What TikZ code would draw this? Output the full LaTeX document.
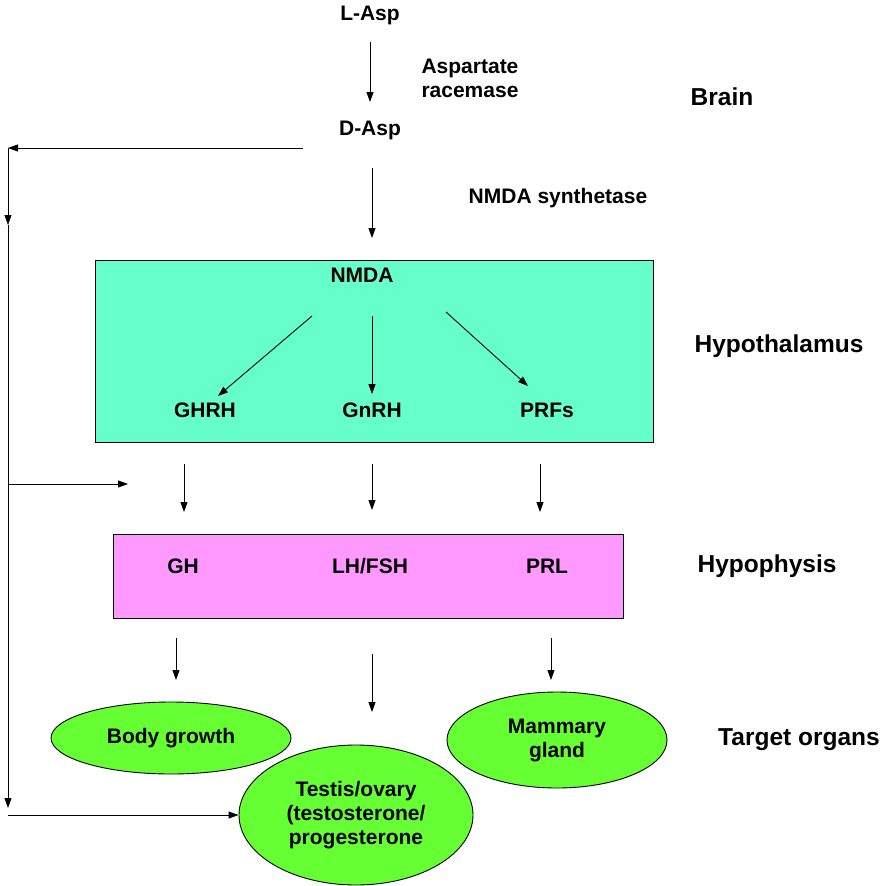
\documentclass[tikz,border=0pt]{standalone}
\usepackage{fontspec}
\setmainfont{Liberation Sans}
\usetikzlibrary{arrows.meta,shapes.geometric}
\begin{document}
\begin{tikzpicture}[x=1pt,y=-1pt,
  t/.style={font=\fontsize{21}{24}\selectfont\bfseries,align=center,inner sep=0},
  r/.style={font=\fontsize{24.5}{28}\selectfont\bfseries,inner sep=0},
  a/.style={-{Triangle[length=10pt,width=7pt]},line width=0.9pt},
  l/.style={line width=0.9pt},
  ov/.style={ellipse,draw,line width=0.9pt,fill=ovg,inner sep=0}]
\definecolor{teal}{HTML}{66FFCC}\definecolor{pinkb}{HTML}{FF99FF}\definecolor{ovg}{HTML}{66FF33}
\useasboundingbox (0,0) rectangle (883,886);
\node[t] (lasp) at (370,15) {L-Asp};
\node[t] (race) at (470,78) {Aspartate\\racemase};
\node[r] (brain) at (722,97) {Brain};
\node[t] (dasp) at (370,130) {D-Asp};
\node[t] (syn) at (558,198) {NMDA synthetase};
\coordinate (a1) at (370,42); \coordinate (a2) at (370,102);
\draw[a] (a1) -- (a2);
\coordinate (b1) at (372,168); \coordinate (b2) at (372,238);
\draw[a] (b1) -- (b2);
% feedback
\coordinate (f0) at (303,148); \coordinate (f1) at (8,148); \coordinate (f2) at (8,225);
\coordinate (f3) at (8,808); \coordinate (h1) at (8,484); \coordinate (h2) at (128,484);
\coordinate (g1) at (8,815);
\draw[a] (f0) -- (f1);
\draw[a] (f1) -- (f2);
\draw[a] (f2) -- (f3);
\draw[a] (h1) -- (h2);
% hypothalamus
\node[draw,l,fill=teal,minimum width=558pt,minimum height=182pt,anchor=north west] (hyp) at (95,260) {};
\node[t] (nmda) at (362,275) {NMDA};
\node[t] (ghrh) at (205,410) {GHRH};
\node[t] (gnrh) at (372,410) {GnRH};
\node[t] (prf) at (547,410) {PRFs};
\node[r] (hl) at (779,346) {Hypothalamus};
\coordinate (c1) at (312,316); \coordinate (c2) at (218,396);
\coordinate (c3) at (372,316); \coordinate (c4) at (372,394);
\coordinate (c5) at (446,312); \coordinate (c6) at (528,386);
\draw[a] (c1) -- (c2); \draw[a] (c3) -- (c4); \draw[a] (c5) -- (c6);
\coordinate (d1) at (184,464); \coordinate (d2) at (184,512);
\coordinate (d3) at (372,464); \coordinate (d4) at (372,510);
\coordinate (d5) at (540,464); \coordinate (d6) at (540,512);
\draw[a] (d1) -- (d2); \draw[a] (d3) -- (d4); \draw[a] (d5) -- (d6);
% hypophysis
\node[draw,l,fill=pinkb,minimum width=510pt,minimum height=84pt,anchor=north west] (hph) at (113,534) {};
\node[t] (gh) at (183,566) {GH};
\node[t] (lh) at (370,566) {LH/FSH};
\node[t] (prl) at (547,566) {PRL};
\node[r] (hpl) at (767,566) {Hypophysis};
\coordinate (e1) at (176,638); \coordinate (e2) at (176,680);
\coordinate (e3) at (372,654); \coordinate (e4) at (372,712);
\coordinate (e5) at (551,638); \coordinate (e6) at (551,680);
\draw[a] (e1) -- (e2); \draw[a] (e3) -- (e4); \draw[a] (e5) -- (e6);
% targets
\node[ov,minimum width=240pt,minimum height=72pt,t] (body) at (171,738) {Body growth};
\node[ov,minimum width=220pt,minimum height=96pt,t] (mam) at (557,740) {Mammary\\gland};
\node[ov,minimum width=234pt,minimum height=140pt,t] (tes) at (356,815) {Testis/ovary\\(testosterone/\\progesterone};
\node[r] (to) at (799,740) {Target organs};
\draw[a] (g1) -- (tes.west);
\end{tikzpicture}
\end{document}
